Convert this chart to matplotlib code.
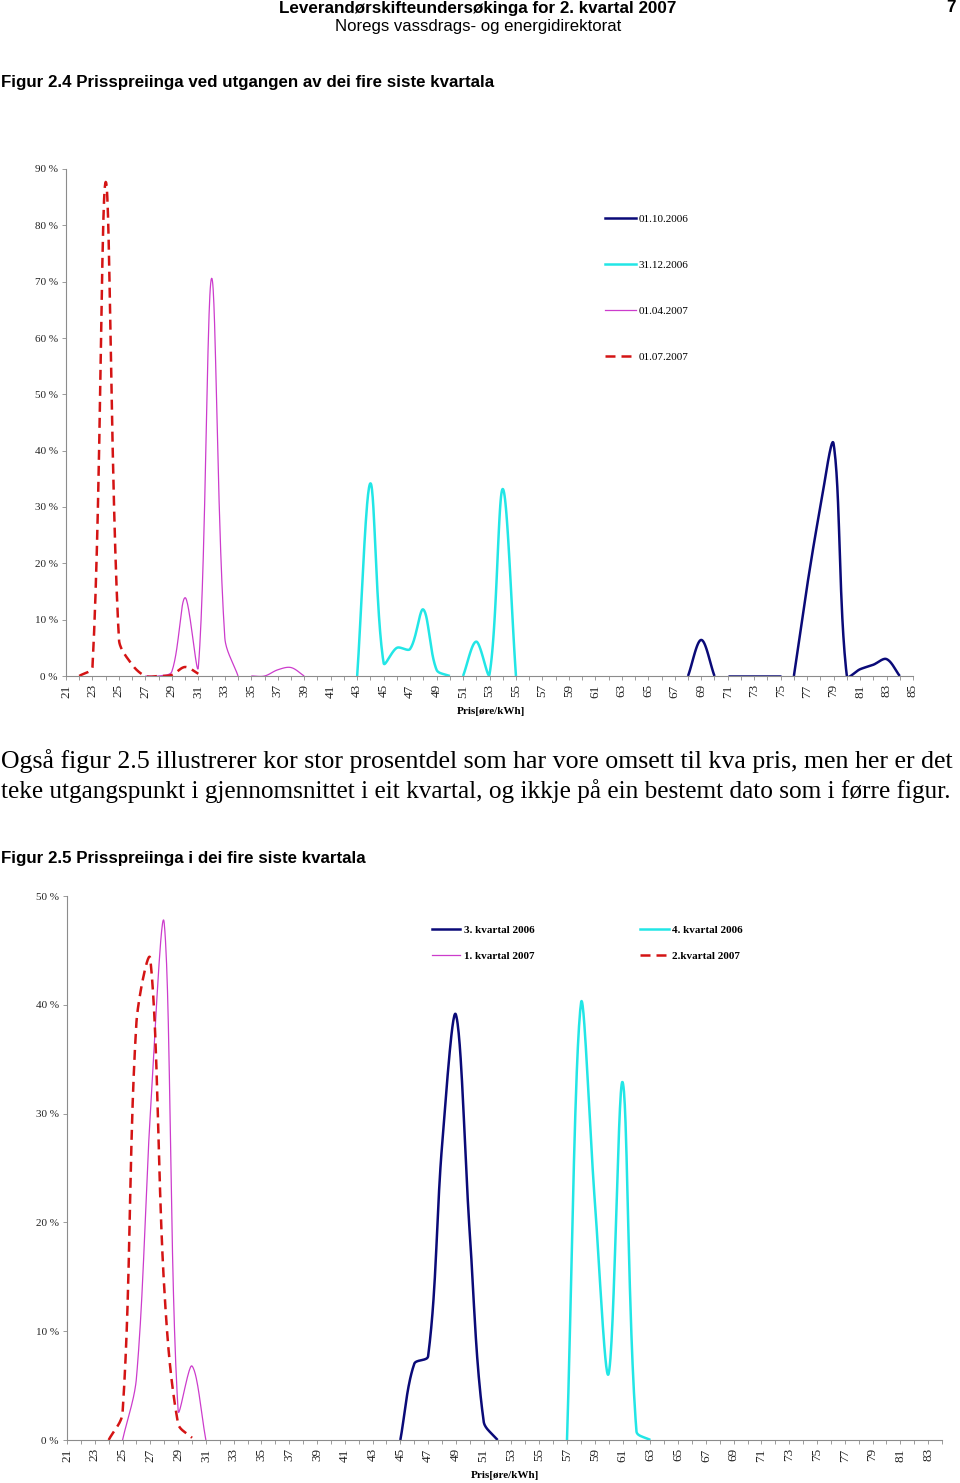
import matplotlib
matplotlib.use("Agg")
import matplotlib.pyplot as plt
import matplotlib.ticker as ticker
from matplotlib.lines import Line2D
import numpy as np

SERIF = ["Liberation Serif", "DejaVu Serif"]
NARROW = ["Liberation Sans Narrow", "Liberation Sans", "DejaVu Sans"]

# Figur 2.4 - share (%) per price (øre/kWh), segments of (first price, values)
f1_labels = ["01.10.2006", "31.12.2006", "01.04.2007", "01.07.2007"]
f1_oct06 = [(68, [0, 6.4, 0]), (71, [0, 0, 0, 0, 0]),
            (76, [0, 16, 30, 41.2, 0, 1.2, 2, 3, 0])]
f1_dec06 = [(43, [0, 34.2, 2.3, 5, 4.8, 11.8, 1.1, 0]),
            (51, [0, 6.1, 0.3, 33.2, 0])]
f1_apr07 = [(27, [0, 0, 0.8, 13.9, 1.6, 70.6, 6.8, 0]),
            (35, [0, 0, 1.1, 1.5, 0])]
f1_jul07 = [(22, [0, 1.6, 87.7, 6.5, 2, 0, 0, 0.2, 1.6, 0.4])]

# Figur 2.5 - quarterly averages
f2_labels = ["3. kvartal 2006", "1. kvartal 2007", "4. kvartal 2006", "2.kvartal 2007"]
f2_q3_06 = [(45, [0, 7, 7.7, 27, 39.1, 19, 1.7, 0])]
f2_q1_07 = [(25, [0, 5.7, 30, 47.5, 2.7, 6.8, 0])]
f2_q4_06 = [(57, [0, 40.1, 22, 6.1, 32.9, 0.8, 0])]
f2_q2_07 = [(24, [0, 2.5, 38.4, 44.2, 14, 1.5, 0.2])]

NAVY = "#0a0a78"
CYAN = "#22e6e6"
MAGENTA = "#cc3ccc"
RED = "#d41414"
styles = {
    "navy": dict(color=NAVY, lw=1.8),
    "cyan": dict(color=CYAN, lw=1.8),
    "mag": dict(color=MAGENTA, lw=0.9),
    "red": dict(color=RED, lw=1.8, linestyle=(0, (4, 2.4))),
}

TENSION = 1 / 3


def smooth(x0, vals, sx, sy, n=30):
    # Excel-like smoothed line: bezier with control points scaled by
    # neighbouring segment lengths (measured in screen pixels)
    y = np.asarray(vals, float) * sy
    x = (np.arange(len(y)) + x0) * sx
    P = np.column_stack([x, y])
    if len(P) < 3:
        return P[:, 0] / sx, P[:, 1] / sy
    Q = np.vstack([P[:1], P, P[-1:]])
    t = np.linspace(0, 1, n)[:, None]
    out = []
    for i in range(len(P) - 1):
        p0, p1, p2, p3 = Q[i], Q[i + 1], Q[i + 2], Q[i + 3]
        d01 = np.hypot(*(p1 - p0))
        d12 = np.hypot(*(p2 - p1))
        d23 = np.hypot(*(p3 - p2))
        f1 = d12 / (d01 + d12) if d01 + d12 else 0
        f2 = d12 / (d12 + d23) if d12 + d23 else 0
        c1 = p1 + (p2 - p0) * f1 * TENSION
        c2 = p2 - (p3 - p1) * f2 * TENSION
        b = ((1 - t) ** 3) * p1 + 3 * ((1 - t) ** 2) * t * c1 + 3 * (1 - t) * t**2 * c2 + t**3 * p2
        out.append(b)
    B = np.vstack(out)
    return B[:, 0] / sx, B[:, 1] / sy


def draw(ax, segs, style, sx, sy):
    for x0, vals in segs:
        xs, ys = smooth(x0, vals, sx, sy)
        ax.plot(xs, ys, solid_capstyle="butt", dash_capstyle="butt", **style)


def style_axes(ax, xmax, ymax, xlabels_to):
    for s in ("top", "right"):
        ax.spines[s].set_visible(False)
    for s in ("left", "bottom"):
        ax.spines[s].set_color("#8c8c8c")
        ax.spines[s].set_linewidth(0.8)
    ax.set_xlim(21, xmax)
    ax.set_ylim(0, ymax)
    xt = list(range(21, xmax + 1))
    ax.set_xticks(xt)
    ax.set_xticklabels([str(v) if v % 2 and v <= xlabels_to else "" for v in xt],
                       rotation=90, family=SERIF, fontsize=9.5, color="#222222")
    ax.set_yticks(range(0, ymax + 1, 10))
    ax.yaxis.set_major_formatter(ticker.FuncFormatter(lambda v, p: f"{v:.0f} %"))
    for lab in ax.get_yticklabels():
        lab.set_family(SERIF)
    ax.tick_params(axis="both", length=3, width=0.6, color="#8c8c8c",
                   labelcolor="#222222", pad=3)
    ax.tick_params(axis="y", labelsize=8)


fig = plt.figure(figsize=(9.6, 14.83), dpi=100)
W, H = 960, 1483


def fx(px):
    return px / W


def fy(py):
    return 1 - py / H


# --- page texts
renderer = fig.canvas.get_renderer()


def fit(t, width):
    bb = t.get_window_extent(renderer)
    t.set_fontsize(t.get_fontsize() * width / bb.width)


t = fig.text(fx(478), fy(8), "Leverandørskifteundersøkinga for 2. kvartal 2007",
             ha="center", va="center", family=NARROW, weight="bold", fontsize=12)
fit(t, 394)
fig.text(fx(956), fy(8), "7", ha="right", va="center", family=NARROW,
         weight="bold", fontsize=t.get_fontsize())
t = fig.text(fx(478), fy(27), "Noregs vassdrags- og energidirektorat",
             ha="center", va="center", family=NARROW, fontsize=12)
fit(t, 286)
t = fig.text(fx(1), fy(82), "Figur 2.4 Prisspreiinga ved utgangen av dei fire siste kvartala",
             ha="left", va="center", family=NARROW, weight="bold", fontsize=12)
fit(t, 490)
t = fig.text(fx(1), fy(761), "Også figur 2.5 illustrerer kor stor prosentdel som har vore "
             "omsett til kva pris, men her er det",
             ha="left", va="center", family=SERIF, fontsize=16)
fit(t, 954)
t = fig.text(fx(1), fy(791), "teke utgangspunkt i gjennomsnittet i eit kvartal, og ikkje på "
             "ein bestemt dato som i førre figur.",
             ha="left", va="center", family=SERIF, fontsize=16)
fit(t, 951)
t = fig.text(fx(1), fy(859), "Figur 2.5 Prisspreiinga i dei fire siste kvartala",
             ha="left", va="center", family=NARROW, weight="bold", fontsize=12)
fit(t, 361)

# --- figure 2.4
ax1 = fig.add_axes([fx(66), fy(676), fx(913 - 66), (676 - 169) / H])
style_axes(ax1, 85, 90, 85)
sx1, sy1 = 13.24, 5.63  # pixels per price unit / per percent
draw(ax1, f1_oct06, styles["navy"], sx1, sy1)
draw(ax1, f1_dec06, styles["cyan"], sx1, sy1)
draw(ax1, f1_apr07, styles["mag"], sx1, sy1)
draw(ax1, f1_jul07, styles["red"], sx1, sy1)
fig.text(fx(491), fy(711), "Pris[øre/kWh]", ha="center", va="center",
         family=SERIF, weight="bold", fontsize=8)

h1 = [Line2D([], [], **styles[k]) for k in ("navy", "cyan", "mag", "red")]
ax1.legend(h1, f1_labels, loc="upper left", bbox_to_anchor=(fx(599), fy(209)),
           bbox_transform=fig.transFigure, frameon=False, borderpad=0,
           handlelength=2.8, handletextpad=0.25, labelspacing=3.25,
           prop=dict(family=SERIF, size=8))

# --- figure 2.5
ax2 = fig.add_axes([fx(67), fy(1440), fx(942 - 67), (1440 - 896) / H])
style_axes(ax2, 84, 50, 83)
sx2, sy2 = 13.89, 10.88
draw(ax2, f2_q3_06, styles["navy"], sx2, sy2)
draw(ax2, f2_q4_06, styles["cyan"], sx2, sy2)
draw(ax2, f2_q1_07, styles["mag"], sx2, sy2)
draw(ax2, f2_q2_07, styles["red"], sx2, sy2)
fig.text(fx(505), fy(1476), "Pris[øre/kWh]", ha="center", va="center",
         family=SERIF, weight="bold", fontsize=8)

h2 = [Line2D([], [], **styles[k]) for k in ("navy", "mag", "cyan", "red")]
ax2.legend(h2, f2_labels, loc="upper left", ncol=2, bbox_to_anchor=(fx(426), fy(920)),
           bbox_transform=fig.transFigure, frameon=False, borderpad=0,
           handlelength=2.6, handletextpad=0.3, labelspacing=1.45, columnspacing=9.5,
           prop=dict(family=SERIF, size=8, weight="bold"))

fig.savefig("out.png", dpi=100)
